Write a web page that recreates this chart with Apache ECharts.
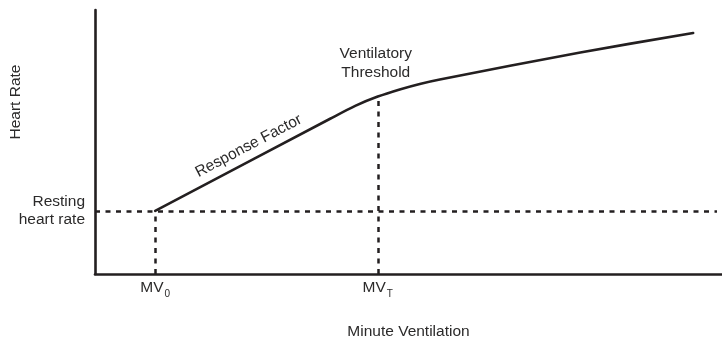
<!DOCTYPE html>
<html>
<head>
<meta charset="utf-8">
<script src="https://cdn.jsdelivr.net/npm/echarts@6/dist/echarts.min.js"></script>
<style>
  html, body { margin: 0; padding: 0; background: #fff; }
  #chart { width: 722px; height: 339px; }
</style>
</head>
<body>
<div id="chart"></div>
<script>
// Heart-rate response to minute ventilation (arbitrary units, 0–100 on both axes)
const ventilation = [9.6, 37.5, 41.5, 45.1, 48.6, 51.8, 55.0, 77.4, 95.4];
const heartRate   = [23.9, 58.8, 63.7, 67.2, 69.9, 72.0, 73.7, 83.9, 91.3];

// Reference levels
const mv0 = 9.6;            // onset of the response
const mvT = 45.1;           // ventilatory threshold
const restingRate = 23.9;   // resting heart rate
const thresholdRate = 67.2; // heart rate at the threshold
const restingLineEnd = 99.2;

// Tick labels
const xTickValues = [mv0, mvT];
const xTickLabels = ['MV{sub|0}', 'MV{sub|T}'];
const yTickValues = [restingRate];
const yTickLabels = ['Resting\nheart rate'];

const INK = '#231f20';
const TEXT = '#2b2a2a';
const FONT = '"Liberation Sans", Arial, Helvetica, sans-serif';
const FS = 15.5;

const curve = ventilation.map((v, i) => [v, heartRate[i]]);
const dashed = { color: INK, width: 2.5, type: [5, 5.5] };

const chart = echarts.init(document.getElementById('chart'), null, { renderer: 'canvas' });

chart.setOption({
  animation: false,
  backgroundColor: '#fff',
  textStyle: { fontFamily: FONT, color: TEXT },
  grid: { left: 95, right: 0, top: 10, bottom: 65, containLabel: false, outerBoundsMode: 'none' },
  xAxis: {
    type: 'value', min: 0, max: 100,
    name: 'Minute Ventilation', nameLocation: 'middle', nameGap: 50,
    nameMoveOverlap: false,
    nameTextStyle: { fontSize: FS, color: TEXT, fontFamily: FONT },
    axisLine: { show: true, lineStyle: { color: INK, width: 2.6 } },
    axisTick: { show: false },
    splitLine: { show: false },
    axisLabel: {
      customValues: xTickValues,
      margin: 2,
      formatter: (v) => xTickLabels[xTickValues.indexOf(v)] || '',
      color: TEXT, fontSize: FS, fontFamily: FONT,
      rich: {
        sub: { fontSize: 10, fontFamily: FONT, color: TEXT, padding: [13, 0, 0, 1] }
      }
    }
  },
  yAxis: {
    type: 'value', min: 0, max: 100,
    name: 'Heart Rate', nameLocation: 'middle', nameGap: 71,
    nameMoveOverlap: false,
    nameTextStyle: { fontSize: FS, color: TEXT, fontFamily: FONT, padding: [0, 0, 0, 80] },
    axisLine: { show: true, lineStyle: { color: INK, width: 2.6 } },
    axisTick: { show: false },
    splitLine: { show: false },
    axisLabel: {
      customValues: yTickValues,
      margin: 10,
      formatter: (v) => yTickLabels[yTickValues.indexOf(v)] || '',
      color: TEXT, fontSize: FS, fontFamily: FONT, lineHeight: 18.5,
      align: 'right', padding: [18, 0, 0, 0]
    }
  },
  series: [{
    type: 'line',
    data: curve,
    symbol: 'none',
    smooth: 0.3,
    clip: false,
    z: 3,
    lineStyle: { color: INK, width: 2.6, cap: 'round', join: 'round' },
    markLine: {
      silent: true,
      symbol: ['none', 'none'],
      animation: false,
      data: [
        [{ coord: [0, restingRate], lineStyle: dashed, label: { show: false } },
         { coord: [restingLineEnd, restingRate] }],
        [{ coord: [mv0, 0], lineStyle: dashed, label: { show: false } },
         { coord: [mv0, restingRate] }],
        [{ coord: [mvT, 0], lineStyle: dashed, label: { show: false } },
         { coord: [mvT, thresholdRate] }],
        [{ coord: [ventilation[0], heartRate[0]],
           lineStyle: { color: 'rgba(0,0,0,0)', width: 0 },
           label: {
             show: true, position: 'insideMiddleTop', distance: 6,
             formatter: 'Response Factor',
             color: TEXT, fontSize: FS, fontFamily: FONT
           } },
         { coord: [ventilation[2], heartRate[2]] }]
      ]
    },
    markPoint: {
      silent: true,
      symbol: 'circle', symbolSize: 0,
      data: [{
        coord: [mvT, thresholdRate],
        label: {
          show: true, position: 'top', distance: 14, offset: [-2, 0],
          formatter: 'Ventilatory\nThreshold',
          align: 'center', lineHeight: 19,
          color: TEXT, fontSize: FS, fontFamily: FONT
        }
      }]
    }
  }]
});
</script>
</body>
</html>
